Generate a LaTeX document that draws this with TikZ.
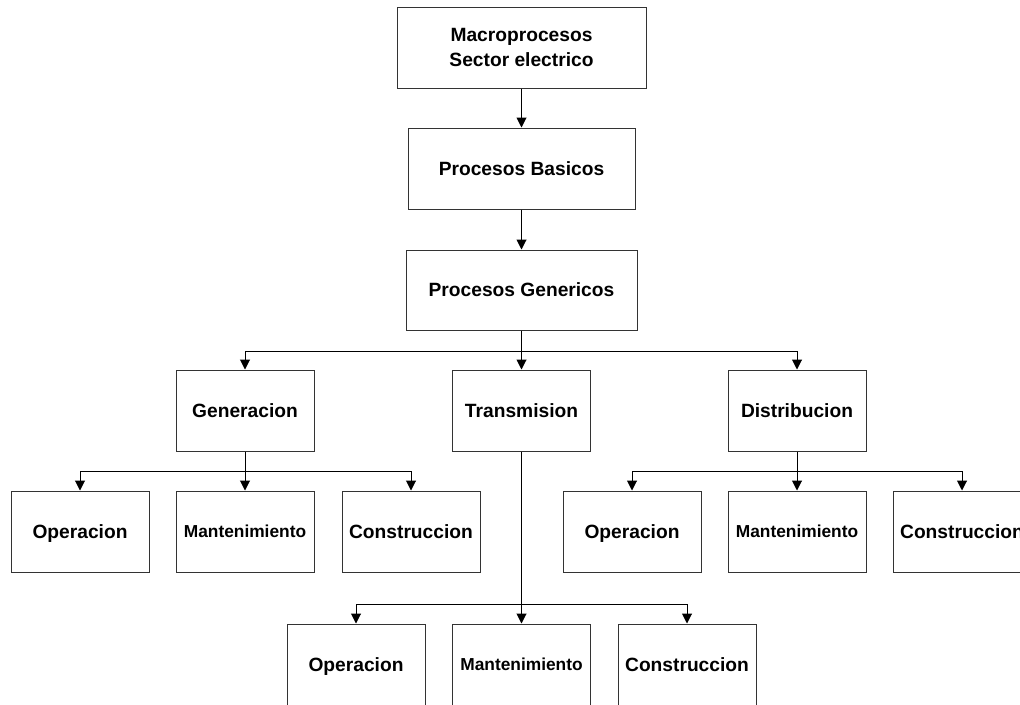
\documentclass[tikz,border=0pt]{standalone}
\usepackage{fontspec}
\setmainfont{Liberation Sans}
\usetikzlibrary{arrows.meta}
\tikzset{
  box/.style={draw=black!80, line width=0.75pt, inner sep=0pt, align=center,
    minimum width=103.5pt, minimum height=60.75pt,
    font=\fontsize{14.4}{19.2}\selectfont\bfseries},
  one/.style={text height=12.3pt, text depth=2pt},
  small/.style={font=\fontsize{13}{16}\selectfont\bfseries, text height=11.3pt, text depth=2pt},
  conn/.style={line width=0.75pt, draw=black},
  arr/.style={conn, -{Triangle[length=7.5pt,width=7.5pt]}}
}
\begin{document}
\begin{tikzpicture}[x=0.75pt,y=-0.75pt]
\clip (0,0) rectangle (1020,704);
\fill[white] (0,0) rectangle (1020,704);
% top
\node[box, minimum width=186.75pt] (macro) at (521.5,47.5) {Macroprocesos\\Sector electrico};
\node[box, one, minimum width=170.25pt] (basic) at (521.5,168.5) {Procesos Basicos};
\node[box, one, minimum width=173.25pt, minimum height=60pt] (gen3) at (521.5,290) {Procesos Genericos};
% second row
\node[box, one] (gener) at (245,410.5) {Generacion};
\node[box, one] (trans) at (521.5,410.5) {Transmision};
\node[box, one] (distr) at (797,410.5) {Distribucion};
% children of Generacion
\node[box, one] (gop) at (80,531.5) {Operacion};
\node[box, small] (gma) at (245,531.5) {Mantenimiento};
\node[box, one] (gco) at (411,531.5) {Construccion};
% children of Distribucion
\node[box, one] (dop) at (632,531.5) {Operacion};
\node[box, small] (dma) at (797,531.5) {Mantenimiento};
\node[box, one] (dco) at (962,531.5) {Construccion};
% children of Transmision
\node[box, one] (top) at (356,664.5) {Operacion};
\node[box, small] (tma) at (521.5,664.5) {Mantenimiento};
\node[box, one] (tco) at (687,664.5) {Construccion};
% branch points
\coordinate (b1) at (521.5,351);
\coordinate (b2) at (245,471);
\coordinate (b3) at (797,471);
\coordinate (b4) at (521.5,604);
% connectors
\draw[arr] (macro) -- (basic);
\draw[arr] (basic) -- (gen3);
\draw[conn] (gen3.south) -- (b1);
\draw[arr] (b1) -| (gener.north);
\draw[arr] (b1) -| (distr.north);
\draw[arr] (b1) -- (trans.north);
\draw[conn] (gener.south) -- (b2);
\draw[arr] (b2) -| (gop.north);
\draw[arr] (b2) -- (gma.north);
\draw[arr] (b2) -| (gco.north);
\draw[conn] (distr.south) -- (b3);
\draw[arr] (b3) -| (dop.north);
\draw[arr] (b3) -- (dma.north);
\draw[arr] (b3) -| (dco.north);
\draw[conn] (trans.south) -- (b4);
\draw[arr] (b4) -| (top.north);
\draw[arr] (b4) -- (tma.north);
\draw[arr] (b4) -| (tco.north);
\end{tikzpicture}
\end{document}
